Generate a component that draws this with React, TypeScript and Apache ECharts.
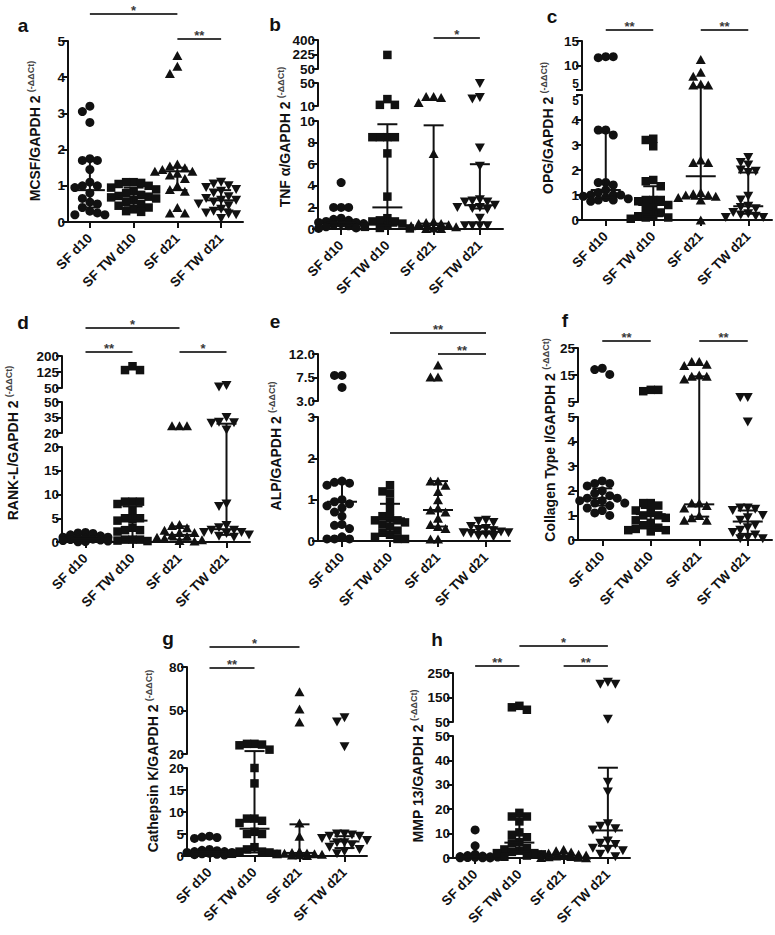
import React, { useEffect, useRef } from 'react';
import * as echarts from 'echarts';

const FONT = '"Liberation Sans", Arial, Helvetica, sans-serif';
const INK = '#111';
const GREY = '#3a3a3a';

const categories = ['SF d10', 'SF TW d10', 'SF d21', 'SF TW d21'];

// ---------- a: MCSF ----------
const mcsfValues = [
  [3.2, 3.05, 2.75, 1.75, 1.7, 1.7, 1.45, 1.1, 1.0, 1.0, 0.95, 0.8, 0.65, 0.55, 0.5, 0.4, 0.3, 0.25, 0.2, 0.2, 0.2],
  [1.1, 1.1, 1.08, 1.05, 1.0, 0.95, 0.9, 0.85, 0.8, 0.75, 0.72, 0.7, 0.68, 0.65, 0.6, 0.55, 0.5, 0.45, 0.4, 0.35, 0.3, 0.28],
  [4.6, 4.3, 4.1, 1.6, 1.55, 1.5, 1.45, 1.4, 1.4, 1.35, 1.3, 1.2, 1.0, 0.9, 0.85, 0.4, 0.25, 0.25],
  [1.1, 1.05, 1.0, 0.95, 0.9, 0.85, 0.8, 0.7, 0.65, 0.6, 0.6, 0.55, 0.5, 0.45, 0.35, 0.3, 0.25, 0.22, 0.2, 0.1],
];
const mcsfMedian = [0.88, 0.7, 1.4, 0.6];
const mcsfQ1 = [0.4, 0.45, 0.88, 0.35];
const mcsfQ3 = [1.7, 0.95, 1.5, 0.88];
const mcsfTicks = [[0, 1, 2, 3, 4, 5]];
const mcsfSig: [number, number, string][] = [[0, 2, '*'], [2, 3, '**']];

// ---------- b: TNF alpha ----------
const tnfValues = [
  [4.3, 2.0, 2.0, 2.0, 1.0, 0.9, 0.8, 0.7, 0.6, 0.6, 0.5, 0.5, 0.4, 0.3, 0.2, 0.1, 0.05],
  [220, 22, 12, 12, 8.5, 8.5, 8.5, 8.5, 7.0, 3.0, 1.0, 0.8, 0.7, 0.7, 0.5, 0.3, 0.2, 0.1, 0.05],
  [26.5, 26.5, 25, 16, 7.0, 0.7, 0.6, 0.5, 0.5, 0.4, 0.3, 0.2, 0.1, 0.05, 0.05],
  [49, 25, 22, 7.5, 5.8, 2.7, 2.6, 2.5, 2.5, 2.2, 2.0, 2.0, 1.9, 1.8, 1.0, 0.3, 0.3, 0.3, 0.3],
];
const tnfMedian = [0.6, 2.0, 0.5, 2.2];
const tnfQ1 = [0.3, 0.3, 0.1, 1.9];
const tnfQ3 = [0.9, 9.7, 9.6, 6.0];
const tnfTicks = [[0, 2, 4, 6, 8, 10], [10, 30, 50], [50, 225, 400]];
const tnfSig: [number, number, string][] = [[2, 3, '*']];

// ---------- c: OPG ----------
const opgValues = [
  [11.8, 11.6, 11.8, 3.6, 3.6, 3.4, 1.5, 1.5, 1.4, 1.2, 1.1, 1.0, 1.0, 1.0, 0.95, 0.9, 0.85, 0.8, 0.8, 0.75],
  [3.25, 3.2, 2.95, 1.6, 1.55, 1.35, 0.8, 0.8, 0.8, 0.75, 0.6, 0.5, 0.4, 0.3, 0.2, 0.15, 0.1, 0.1, 0.05],
  [11.2, 8.6, 7.8, 6.2, 6.0, 6.0, 2.4, 2.3, 2.3, 1.1, 1.05, 1.0, 1.0, 0.95, 0.9, 0.8, 0.0],
  [2.5, 2.3, 2.2, 2.0, 1.95, 1.9, 0.95, 0.8, 0.55, 0.5, 0.45, 0.3, 0.25, 0.2, 0.15, 0.1, 0.1],
];
const opgMedian = [1.2, 0.6, 1.75, 0.55];
const opgQ1 = [0.9, 0.15, 0.85, 0.25];
const opgQ3 = [3.5, 1.35, 5.6, 1.9];
const opgTicks = [[0, 1, 2, 3, 4, 5], [5, 10, 15]];
const opgSig: [number, number, string][] = [[0, 1, '**'], [2, 3, '**']];

// ---------- d: RANK-L ----------
const rankValues = [
  [2.0, 1.9, 1.8, 1.5, 1.3, 1.0, 1.0, 0.8, 0.8, 0.6, 0.5, 0.4, 0.3, 0.2, 0.1, 0.05],
  [152, 134, 134, 8.5, 8.5, 8.5, 8.0, 6.5, 5.0, 5.0, 4.8, 4.5, 3.0, 2.5, 2.5, 2.2, 0.5, 0.5, 0.5, 0.3, 0.2],
  [27, 27, 27, 3.7, 3.5, 3.0, 2.5, 2.0, 2.0, 1.5, 1.2, 1.0, 0.8, 0.5, 0.3, 0.2],
  [62, 55, 35, 30.5, 30, 29.5, 23, 8.0, 7.5, 3.5, 3.0, 2.5, 2.5, 2.0, 2.0, 1.8, 1.5, 1.2, 1.0],
];
const rankMedian = [0.7, 4.5, 1.5, 2.7];
const rankQ1 = [0.3, 0.5, 0.5, 1.5];
const rankQ3 = [1.2, 7.5, 3.3, 29];
const rankTicks = [[0, 5, 10, 15, 20], [20, 35, 50], [50, 125, 200]];
const rankSig: [number, number, string][] = [[0, 2, '*'], [0, 1, '**'], [2, 3, '*']];

// ---------- e: ALP ----------
const alpValues = [
  [7.9, 7.9, 5.6, 1.45, 1.42, 1.4, 1.35, 1.0, 0.95, 0.9, 0.85, 0.8, 0.7, 0.6, 0.4, 0.38, 0.3, 0.1, 0.05, 0.05, 0.05],
  [1.35, 1.2, 1.15, 0.95, 0.75, 0.6, 0.55, 0.5, 0.5, 0.45, 0.4, 0.35, 0.25, 0.2, 0.15, 0.1, 0.05, 0.05],
  [9.9, 7.6, 7.6, 1.45, 1.45, 1.35, 1.2, 1.0, 0.8, 0.75, 0.7, 0.55, 0.4, 0.35, 0.3, 0.05, 0.05],
  [0.5, 0.48, 0.45, 0.35, 0.3, 0.28, 0.25, 0.22, 0.2, 0.2, 0.18, 0.15, 0.12, 0.1],
];
const alpMedian = [0.95, 0.55, 0.75, 0.22];
const alpQ1 = [0.35, 0.2, 0.35, 0.18];
const alpQ3 = [1.4, 0.9, 1.45, 0.33];
const alpTicks = [[0, 1, 2, 3], [3, 7.5, 12]];
const alpSig: [number, number, string][] = [[1, 3, '**'], [2, 3, '**']];

// ---------- f: Collagen type I ----------
const colValues = [
  [17.5, 17.0, 15.2, 2.4, 2.3, 2.3, 2.2, 2.0, 1.9, 1.8, 1.7, 1.7, 1.6, 1.6, 1.5, 1.5, 1.4, 1.3, 1.2, 1.1, 1.0],
  [9.5, 9.0, 9.5, 1.5, 1.5, 1.4, 1.2, 1.1, 1.0, 1.0, 0.9, 0.8, 0.7, 0.6, 0.5, 0.45, 0.4, 0.4, 0.35],
  [20, 20, 19, 18.5, 15, 14.5, 14.5, 13.5, 1.5, 1.5, 1.4, 1.3, 1.0, 0.9, 0.8, 0.8],
  [6.7, 6.7, 4.8, 1.3, 1.3, 1.25, 1.2, 1.0, 0.9, 0.8, 0.6, 0.5, 0.4, 0.3, 0.2, 0.1, 0.05, 0.05],
];
const colMedian = [1.7, 1.05, 1.45, 0.75];
const colQ1 = [1.4, 0.5, 0.95, 0.25];
const colQ3 = [2.1, 1.3, 14.5, 1.2];
const colTicks = [[0, 1, 2, 3, 4, 5], [5, 15, 25]];
const colSig: [number, number, string][] = [[0, 1, '**'], [2, 3, '**']];

// ---------- g: Cathepsin K ----------
const ctkValues = [
  [4.5, 4.3, 4.2, 4.0, 1.5, 1.3, 1.2, 1.0, 1.0, 0.8, 0.8, 0.6, 0.5, 0.4, 0.3, 0.2],
  [27, 27, 26.5, 26, 23, 20, 16.5, 8.5, 8.5, 8.0, 7.5, 5.5, 5.0, 5.0, 2.0, 1.5, 1.0, 1.0, 0.8, 0.5, 0.5],
  [63, 51, 42, 7.5, 4.5, 1.0, 0.8, 0.7, 0.6, 0.5, 0.5, 0.4, 0.3, 0.2, 0.1],
  [45, 42, 25, 5.0, 5.0, 4.8, 4.5, 4.5, 4.0, 3.5, 3.0, 3.0, 2.5, 2.0, 1.5, 1.0, 0.5],
];
const ctkMedian = [1.0, 6.2, 0.7, 3.3];
const ctkQ1 = [0.5, 0.8, 0.3, 1.8];
const ctkQ3 = [1.5, 22, 7.2, 4.5];
const ctkTicks = [[0, 5, 10, 15, 20], [20, 50, 80]];
const ctkSig: [number, number, string][] = [[0, 2, '*'], [0, 1, '**']];

// ---------- h: MMP 13 ----------
const mmpValues = [
  [11.5, 5.0, 1.5, 1.0, 0.8, 0.6, 0.5, 0.5, 0.4, 0.3, 0.2, 0.1, 0.1, 0.05],
  [116, 110, 100, 18.5, 17.0, 17.0, 15.0, 10.5, 9.5, 8.5, 6.5, 6.0, 4.0, 3.5, 3.0, 2.5, 2.0, 2.0, 1.5, 1.0, 0.5],
  [3.5, 3.0, 2.5, 2.0, 1.5, 1.5, 1.2, 1.0, 0.8, 0.6, 0.5, 0.3, 0.2, 0.1],
  [212, 204, 204, 61, 31, 27, 14, 13, 12, 11.5, 7, 6, 5.5, 4, 3.5, 3, 1.5, 0.5],
];
const mmpMedian = [0.5, 6.3, 0.9, 11.3];
const mmpQ1 = [0.2, 2.5, 0.4, 5];
const mmpQ3 = [1.0, 17.5, 1.8, 37];
const mmpTicks = [[0, 10, 20, 30, 40, 50], [50, 150, 250]];
const mmpSig: [number, number, string][] = [[1, 3, '*'], [0, 1, '**'], [2, 3, '**']];

// ---------- layout (pixels) ----------
type Panel = {
  letter: string; title: string;
  values: number[][]; median: number[]; q1: number[]; q3: number[];
  ticks: number[][]; decimals: number[]; sig: [number, number, string][];
  left: number; right: number; segs: [number, number][];
  letterXY: [number, number]; titleXY: [number, number]; sigY: number[];
  tightBreak?: boolean;
};

const panels: Panel[] = [
  { letter: 'a', title: 'MCSF/GAPDH 2', values: mcsfValues, median: mcsfMedian, q1: mcsfQ1, q3: mcsfQ3,
    ticks: mcsfTicks, decimals: [0], sig: mcsfSig,
    left: 68, right: 243, segs: [[41, 222]], letterXY: [23, 25], titleXY: [35, 131], sigY: [14, 39] },
  { letter: 'b', title: 'TNF α/GAPDH 2', values: tnfValues, median: tnfMedian, q1: tnfQ1, q3: tnfQ3,
    ticks: tnfTicks, decimals: [0, 0, 0], sig: tnfSig,
    left: 318, right: 503, segs: [[121, 229], [83, 106], [40, 69]], letterXY: [275, 24], titleXY: [285, 137], sigY: [38] },
  { letter: 'c', title: 'OPG/GAPDH 2', values: opgValues, median: opgMedian, q1: opgQ1, q3: opgQ3,
    ticks: opgTicks, decimals: [0, 0], sig: opgSig, tightBreak: true,
    left: 582, right: 772, segs: [[95, 220], [41, 90]], letterXY: [552, 16], titleXY: [548, 128], sigY: [30, 30] },
  { letter: 'd', title: 'RANK-L/GAPDH 2', values: rankValues, median: rankMedian, q1: rankQ1, q3: rankQ3,
    ticks: rankTicks, decimals: [0, 0, 0], sig: rankSig,
    left: 62, right: 250, segs: [[447, 542], [402, 433], [356, 388]], letterXY: [23, 322], titleXY: [13, 443], sigY: [328, 352, 352] },
  { letter: 'e', title: 'ALP/GAPDH 2', values: alpValues, median: alpMedian, q1: alpQ1, q3: alpQ3,
    ticks: alpTicks, decimals: [0, 1], sig: alpSig,
    left: 318, right: 510, segs: [[417, 541], [354, 401]], letterXY: [275, 321], titleXY: [276, 446], sigY: [333, 354] },
  { letter: 'f', title: 'Collagen Type I/GAPDH 2', values: colValues, median: colMedian, q1: colQ1, q3: colQ3,
    ticks: colTicks, decimals: [0, 0], sig: colSig,
    left: 578, right: 772, segs: [[417, 540], [348, 402]], letterXY: [565, 320], titleXY: [550, 440], sigY: [341, 341] },
  { letter: 'g', title: 'Cathepsin K/GAPDH 2', values: ctkValues, median: ctkMedian, q1: ctkQ1, q3: ctkQ3,
    ticks: ctkTicks, decimals: [0, 0], sig: ctkSig,
    left: 187, right: 367, segs: [[768, 856], [667, 754]], letterXY: [168, 638], titleXY: [153, 761], sigY: [647, 668] },
  { letter: 'h', title: 'MMP 13/GAPDH 2', values: mmpValues, median: mmpMedian, q1: mmpQ1, q3: mmpQ3,
    ticks: mmpTicks, decimals: [0, 0], sig: mmpSig,
    left: 453, right: 630, segs: [[736, 858], [673, 722]], letterXY: [437, 639], titleXY: [418, 766], sigY: [646, 666, 666] },
];

const SYMBOLS = ['circle', 'rect', 'triangle', 'triangle'];
const SYM_ROT = [0, 0, 0, 180];
const SYM_SIZE: any[] = [9, 8.5, [10, 9], [10, 9]];
const MED_W = 30;
const CAP_W = 20;
const LABEL_FONT = 13.5;

// simple beeswarm layout: horizontal pixel offsets so markers do not pile up
function swarm(vals: number[], toPx: (v: number) => number, band: number): number[] {
  const placed: { x: number; y: number }[] = [];
  const D = 7.5;
  const step = 7.5;
  return vals.map((v) => {
    const y = toPx(v);
    let best = 0;
    let bestScore = -Infinity;
    for (let k = 0; k < 7; k++) {
      const off = k === 0 ? 0 : (k % 2 ? -1 : 1) * Math.ceil(k / 2) * step;
      let minD = Infinity;
      for (const p of placed) {
        const d = Math.hypot(p.x - off, p.y - y);
        if (d < minD) minD = d;
      }
      if (minD >= D) { best = off; break; }
      if (minD > bestScore) { bestScore = minD; best = off; }
    }
    placed.push({ x: best, y });
    return best / band;
  });
}

function makeErr(mn: number, mx: number, gapAbove: number, isBottom: boolean) {
  return (params: any, api: any) => {
    const x = api.value(0);
    const med = api.value(1);
    const lo = api.value(2);
    const hi = api.value(3);
    const cx = api.coord([x, mn])[0];
    const yOf = (v: number) => api.coord([x, v])[1];
    const ch: any[] = [];
    const line = (x1: number, y1: number, x2: number, y2: number) =>
      ch.push({ type: 'line', shape: { x1, y1, x2, y2 }, style: { stroke: INK, lineWidth: 2 } });
    const inSeg = (v: number) => v <= mx && (isBottom ? v >= mn : v > mn);
    const a = Math.max(lo, mn);
    const b = Math.min(hi, mx);
    if (a <= b) {
      let yTop = yOf(b);
      if (hi > mx && gapAbove > 0) yTop -= gapAbove;
      line(cx, yOf(a), cx, yTop);
    }
    if (inSeg(lo)) line(cx - CAP_W / 2, yOf(lo), cx + CAP_W / 2, yOf(lo));
    if (inSeg(hi)) line(cx - CAP_W / 2, yOf(hi), cx + CAP_W / 2, yOf(hi));
    if (inSeg(med)) line(cx - MED_W / 2, yOf(med), cx + MED_W / 2, yOf(med));
    return { type: 'group', children: ch };
  };
}

function labelStyle(dec: number, size: number) {
  return {
    showMinLabel: true, showMaxLabel: true,
    formatter: (v: number) => (dec ? Number(v).toFixed(dec) : String(v)),
    fontSize: size, fontWeight: 'bold', fontFamily: FONT, color: INK, margin: 3,
  };
}

function buildOption() {
  const grid: any[] = [];
  const xAxis: any[] = [];
  const yAxis: any[] = [];
  const series: any[] = [];
  const graphic: any[] = [];

  panels.forEach((p) => {
    const nSeg = p.segs.length;
    const band = (p.right - p.left) / 4;
    const segRange = p.ticks.map((t) => [t[0], t[t.length - 1]]);
    const toPx = (v: number) => {
      let s = segRange.findIndex((r) => v <= r[1]);
      if (s < 0) s = nSeg - 1;
      const [mn, mx] = segRange[s];
      const [top, bot] = p.segs[s];
      return bot - ((v - mn) / (mx - mn)) * (bot - top);
    };
    const offsets = p.values.map((vals) => swarm(vals, toPx, band));

    p.segs.forEach((seg, s) => {
      const gi = grid.length;
      const [top, bot] = seg;
      grid.push({ left: p.left, top, width: p.right - p.left, height: bot - top });
      const xi = xAxis.length;
      xAxis.push({ type: 'value', gridIndex: gi, min: 0.5, max: 4.5, show: false });
      if (s === 0) {
        xAxis.push({
          type: 'category', gridIndex: gi, data: categories, boundaryGap: true, position: 'bottom',
          axisLine: { show: true, onZero: false, lineStyle: { color: INK, width: 2 } },
          axisTick: { show: true, alignWithLabel: true, interval: 0, length: 6, lineStyle: { color: INK, width: 2 } },
          axisLabel: { interval: 0, rotate: 45, fontSize: LABEL_FONT, fontWeight: 'bold', fontFamily: FONT, color: INK, margin: 14 },
          splitLine: { show: false },
        });
      }
      const yi = yAxis.length;
      const [mn, mx] = segRange[s];
      const dec = p.decimals[s];
      let labelVals = p.ticks[s];
      const edge: { v: number; va: string }[] = [];
      if (p.tightBreak) {
        // break labels that would collide: lower one hangs below its tick, upper one sits above its tick
        if (s < nSeg - 1) { labelVals = labelVals.filter((v) => v !== mx); edge.push({ v: mx, va: 'top' }); }
        if (s > 0) { labelVals = labelVals.filter((v) => v !== mn); edge.push({ v: mn, va: 'bottom' }); }
      }
      yAxis.push({
        type: 'value', gridIndex: gi, min: mn, max: mx, position: 'left',
        axisLine: { show: true, onZero: false, lineStyle: { color: INK, width: 2 } },
        axisTick: { show: true, length: 6, customValues: p.ticks[s], lineStyle: { color: INK, width: 2 } },
        axisLabel: { customValues: labelVals, ...labelStyle(dec, LABEL_FONT) },
        splitLine: { show: false },
      });
      edge.forEach((e) => {
        yAxis.push({
          type: 'value', gridIndex: gi, min: mn, max: mx, position: 'left',
          axisLine: { show: false }, axisTick: { show: false },
          axisLabel: { customValues: [e.v], verticalAlign: e.va, lineHeight: 12, ...labelStyle(dec, 12) },
          splitLine: { show: false },
        });
      });
      const lowerBound = s === 0 ? -Infinity : segRange[s - 1][1];
      p.values.forEach((vals, g) => {
        const data: number[][] = [];
        vals.forEach((v, k) => {
          if (v > lowerBound && v <= mx) data.push([g + 1 + offsets[g][k], v]);
        });
        series.push({
          type: 'scatter', xAxisIndex: xi, yAxisIndex: yi, data,
          symbol: SYMBOLS[g], symbolRotate: SYM_ROT[g], symbolSize: SYM_SIZE[g],
          itemStyle: { color: INK, opacity: 1 }, silent: true, z: 2,
        });
      });
      const gapAbove = s < nSeg - 1 ? top - p.segs[s + 1][1] : 0;
      series.push({
        type: 'custom', xAxisIndex: xi, yAxisIndex: yi, clip: false, silent: true, z: 3,
        encode: { x: 0, y: 1 },
        data: p.median.map((m, g) => [g + 1, m, p.q1[g], p.q3[g]]),
        renderItem: makeErr(mn, mx, gapAbove, s === 0),
      });
    });

    // panel letter
    graphic.push({
      type: 'text', x: p.letterXY[0], y: p.letterXY[1], silent: true,
      style: { text: p.letter, fontSize: 19, fontWeight: 'bold', fontFamily: FONT, fill: INK, align: 'center', verticalAlign: 'middle' },
    });
    // y-axis title with superscript
    graphic.push({
      type: 'text', x: p.titleXY[0], y: p.titleXY[1], rotation: Math.PI / 2, silent: true,
      style: {
        text: `{m|${p.title}} {s|(-ΔΔCt)}`,
        rich: {
          m: { fontSize: 14, fontWeight: 'bold', fontFamily: FONT, fill: INK, lineHeight: 18 },
          s: { fontSize: 9, fontWeight: 'bold', fontFamily: FONT, fill: '#444', verticalAlign: 'top', lineHeight: 11 },
        },
        align: 'center', verticalAlign: 'middle', fill: INK,
      },
    });
    // significance brackets
    const cx = (i: number) => p.left + (i + 0.5) * band;
    p.sig.forEach(([from, to, label], k) => {
      const y = p.sigY[k];
      graphic.push({
        type: 'line', silent: true,
        shape: { x1: cx(from), y1: y, x2: cx(to), y2: y },
        style: { stroke: GREY, lineWidth: 2 },
      });
      graphic.push({
        type: 'text', silent: true, x: (cx(from) + cx(to)) / 2, y: y + 3,
        style: { text: label, fontSize: 13, fontWeight: 'bold', fontFamily: FONT, fill: GREY, align: 'center', verticalAlign: 'bottom' },
      });
    });
  });

  return {
    animation: false,
    backgroundColor: '#ffffff',
    grid, xAxis, yAxis, series, graphic,
  };
}

export default function App() {
  const ref = useRef<HTMLDivElement>(null);
  useEffect(() => {
    if (!ref.current) return;
    const chart = echarts.init(ref.current, null, { renderer: 'svg' });
    chart.setOption(buildOption() as any);
    return () => chart.dispose();
  }, []);
  return (
    <div
      ref={ref}
      style={{ position: 'absolute', left: 0, top: 0, width: 775, height: 935, background: '#fff' }}
    />
  );
}
